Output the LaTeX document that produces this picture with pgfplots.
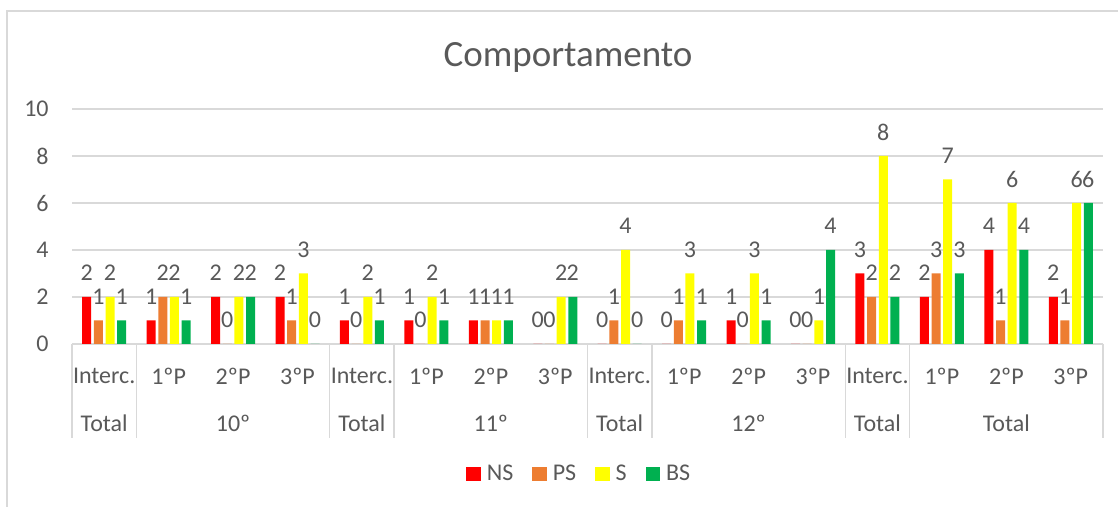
\documentclass[border=0pt]{standalone}
\usepackage{fontspec}
\setmainfont{Carlito}
\usepackage{pgfplots}
\usepackage{pgfplotstable}
\pgfplotsset{compat=1.18}
\definecolor{ns}{HTML}{FF0000}
\definecolor{ps}{HTML}{ED7D31}
\definecolor{sy}{HTML}{FFFF00}
\definecolor{bs}{HTML}{00B050}
\definecolor{txt}{HTML}{595959}
\definecolor{grd}{HTML}{D9D9D9}

\pgfplotstableread{
x NS PS S BS
0 2 1 2 1
1 1 2 2 1
2 2 0 2 2
3 2 1 3 0
4 1 0 2 1
5 1 0 2 1
6 1 1 1 1
7 0 0 2 2
8 0 1 4 0
9 0 1 3 1
10 1 0 3 1
11 0 0 1 4
12 3 2 8 2
13 2 3 7 3
14 4 1 6 4
15 2 1 6 6
}\data

\newcommand{\lab}{\fontsize{12}{14}\selectfont}

\begin{document}
\begin{tikzpicture}
\useasboundingbox (0pt,0pt) rectangle (559pt,253.5pt);
\draw[grd, line width=0.7pt] (3.5pt,0pt) -- (3.5pt,248pt) -- (559pt,248pt);
\node[font=\fontsize{18.5}{22}\selectfont, text=txt, anchor=base, inner sep=0pt] at (284pt,220.2pt) {Comportamento};
\begin{axis}[
  at={(36pt,81.5pt)}, anchor=south west,
  scale only axis, width=515.5pt, height=117.5pt,
  xmin=-0.5, xmax=15.5, ymin=0, ymax=10,
  clip=false,
  ybar=1.33pt, bar width=4.5pt,
  axis line style={draw=none},
  major tick length=0,
  ymajorgrids, grid style={grd, line width=0.7pt},
  ytick={0,2,4,6,8,10},
  xtick={0,...,15},
  xticklabels={Interc.,1ºP,2ºP,3ºP,Interc.,1ºP,2ºP,3ºP,Interc.,1ºP,2ºP,3ºP,Interc.,1ºP,2ºP,3ºP},
  /pgf/number format/assume math mode=true,
  yticklabel style={font=\lab, text=txt, inner sep=0pt, anchor=east, xshift=-11.5pt},
  xticklabel style={font=\lab, text=txt, inner sep=0pt, anchor=center, yshift=-16pt},
  nodes near coords,
  every node near coord/.append style={font=\lab, text=txt, anchor=center, yshift=12pt, inner sep=0pt},
  legend columns=4,
  legend style={at={(0.493,-0.553)}, anchor=center, draw=none, fill=none,
    font=\lab, text=txt,
    /tikz/every even column/.append style={column sep=7.5pt},
    /tikz/every odd column/.append style={column sep=1pt}},
]
\addplot[fill=ns, draw=none, legend image code/.code={\fill[ns] (0pt,-3.6pt) rectangle (7.2pt,3.6pt);}] table[x=x,y=NS] {\data};
\addplot[fill=ps, draw=none, legend image code/.code={\fill[ps] (0pt,-3.6pt) rectangle (7.2pt,3.6pt);}] table[x=x,y=PS] {\data};
\addplot[fill=sy, draw=none, legend image code/.code={\fill[sy] (0pt,-3.6pt) rectangle (7.2pt,3.6pt);}] table[x=x,y=S] {\data};
\addplot[fill=bs, draw=none, legend image code/.code={\fill[bs] (0pt,-3.6pt) rectangle (7.2pt,3.6pt);}] table[x=x,y=BS] {\data};
\legend{NS,PS,S,BS}
\pgfplotsinvokeforeach{-0.5,0.5,3.5,4.5,7.5,8.5,11.5,12.5,15.5}{
  \draw[grd, line width=0.7pt] (axis cs:#1,0) -- ++(0pt,-47pt);
}
\node[font=\lab, text=txt, inner sep=0pt] at ([yshift=-39.5pt]axis cs:0,0) {Total};
\node[font=\lab, text=txt, inner sep=0pt] at ([yshift=-39.5pt]axis cs:2,0) {10º};
\node[font=\lab, text=txt, inner sep=0pt] at ([yshift=-39.5pt]axis cs:4,0) {Total};
\node[font=\lab, text=txt, inner sep=0pt] at ([yshift=-39.5pt]axis cs:6,0) {11º};
\node[font=\lab, text=txt, inner sep=0pt] at ([yshift=-39.5pt]axis cs:8,0) {Total};
\node[font=\lab, text=txt, inner sep=0pt] at ([yshift=-39.5pt]axis cs:10,0) {12º};
\node[font=\lab, text=txt, inner sep=0pt] at ([yshift=-39.5pt]axis cs:12,0) {Total};
\node[font=\lab, text=txt, inner sep=0pt] at ([yshift=-39.5pt]axis cs:14,0) {Total};
\end{axis}
\end{tikzpicture}
\end{document}
